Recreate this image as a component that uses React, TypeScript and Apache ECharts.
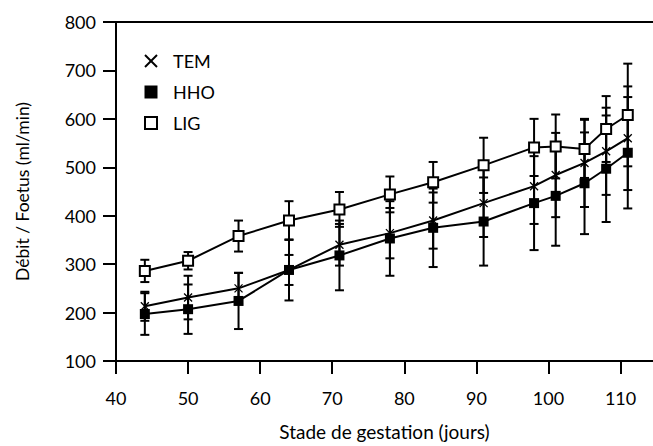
import React, { useEffect, useRef } from "react";
import * as echarts from "echarts";

const days = [44, 50, 57, 64, 71, 78, 84, 91, 98, 101, 105, 108, 111];
const temMean = [213, 231, 250, 288, 340, 364, 390, 426, 461, 484, 509, 533, 560];
const temSd = [30, 45, 32, 31, 43, 52, 58, 70, 78, 87, 91, 90, 107];
const hhoMean = [197, 207, 224, 288, 318, 353, 375, 388, 426, 441, 467, 497, 530];
const hhoSd = [43, 51, 58, 63, 72, 77, 81, 91, 97, 103, 105, 110, 115];
const ligMean = [286, 307, 358, 390, 413, 444, 469, 504, 541, 543, 538, 579, 608];
const ligSd = [23, 18, 32, 40, 36, 37, 42, 57, 59, 66, 60, 68, 106];

const xTicks = [40, 50, 60, 70, 80, 90, 100, 110];
const legendNames = ["TEM", "HHO", "LIG"];
const xTitle = "Stade de gestation (jours)";
const yTitle = "Débit / Foetus (ml/min)";

const FONT = "Lato";

function errData(mean: number[], sd: number[]) {
  return days.map((d, i) => [d, mean[i] - sd[i], mean[i] + sd[i]]);
}

function errSeries(mean: number[], sd: number[]) {
  return {
    type: "custom",
    z: 2,
    data: errData(mean, sd),
    renderItem: (params: any, api: any) => {
      const x = api.value(0);
      const lo = api.value(1);
      const hi = api.value(2);
      const p1 = api.coord([x, hi]);
      const p2 = api.coord([x, lo]);
      const w = 4.5;
      const st = { stroke: "#000", lineWidth: 2 };
      return {
        type: "group",
        children: [
          { type: "line", shape: { x1: p1[0], y1: p1[1], x2: p2[0], y2: p2[1] }, style: st },
          { type: "line", shape: { x1: p1[0] - w, y1: p1[1], x2: p1[0] + w, y2: p1[1] }, style: st },
          { type: "line", shape: { x1: p2[0] - w, y1: p2[1], x2: p2[0] + w, y2: p2[1] }, style: st },
        ],
      };
    },
  };
}

function lineSeries(name: string, mean: number[], symbol: string, size: number, itemStyle: any, z: number) {
  return {
    type: "line",
    name,
    z,
    data: days.map((d, i) => [d, mean[i]]),
    symbol,
    symbolSize: size,
    showAllSymbol: true,
    lineStyle: { color: "#000", width: 2 },
    itemStyle,
  };
}

export default function App() {
  const ref = useRef<HTMLDivElement>(null);
  useEffect(() => {
    if (!ref.current) return;
    const chart = echarts.init(ref.current, null, { renderer: "svg" });
    const legendY = [61, 92, 123];
    const lx = 151;
    chart.setOption({
      animation: false,
      backgroundColor: "#fff",
      textStyle: { fontFamily: FONT, color: "#000" },
      grid: { left: 116, right: 0, top: 22, bottom: 82 },
      xAxis: [
        {
          type: "value",
          min: 40,
          max: 114.5,
          interval: 10,
          name: xTitle,
          nameLocation: "middle",
          nameGap: 61,
          nameTextStyle: { fontFamily: FONT, fontSize: 19, color: "#000" },
          axisLine: { show: true, lineStyle: { color: "#000", width: 2 } },
          axisTick: { show: true, length: 13, customValues: xTicks, lineStyle: { color: "#000", width: 2 } },
          axisLabel: { customValues: xTicks, margin: 28, fontFamily: FONT, fontSize: 18, color: "#000" },
          splitLine: { show: false },
        },
        {
          type: "value",
          position: "top",
          min: 40,
          max: 114.5,
          axisLine: { show: true, lineStyle: { color: "#000", width: 2 } },
          axisTick: { show: false },
          axisLabel: { show: false },
          splitLine: { show: false },
        },
      ],
      yAxis: {
        type: "value",
        min: 100,
        max: 800,
        interval: 100,
        name: yTitle,
        nameLocation: "middle",
        nameGap: 85,
        nameTextStyle: { fontFamily: FONT, fontSize: 17.5, color: "#000" },
        axisLine: { show: true, lineStyle: { color: "#000", width: 2 } },
        axisTick: { show: true, length: 13, lineStyle: { color: "#000", width: 2 } },
        axisLabel: { margin: 20, fontFamily: FONT, fontSize: 18, color: "#000" },
        splitLine: { show: false },
      },
      graphic: [
        { type: "line", shape: { x1: lx - 6, y1: legendY[0] - 6, x2: lx + 6, y2: legendY[0] + 6 }, style: { stroke: "#000", lineWidth: 2 } },
        { type: "line", shape: { x1: lx + 6, y1: legendY[0] - 6, x2: lx - 6, y2: legendY[0] + 6 }, style: { stroke: "#000", lineWidth: 2 } },
        { type: "rect", shape: { x: lx - 6.5, y: legendY[1] - 6.5, width: 13, height: 13 }, style: { fill: "#000" } },
        { type: "rect", shape: { x: lx - 6, y: legendY[2] - 6, width: 12, height: 12 }, style: { fill: "#fff", stroke: "#000", lineWidth: 2 } },
        ...legendNames.map((n, i) => ({
          type: "text",
          x: 173,
          y: legendY[i],
          style: { text: n, fontFamily: FONT, fontSize: 18, fill: "#000", verticalAlign: "middle", textAlign: "left" },
        })),
      ],
      series: [
        errSeries(temMean, temSd),
        errSeries(hhoMean, hhoSd),
        errSeries(ligMean, ligSd),
        lineSeries("TEM", temMean, "path://M0,0L10,10M10,0L0,10", 8, { color: "rgba(0,0,0,0)", borderColor: "#000", borderWidth: 1.3 }, 4),
        lineSeries("HHO", hhoMean, "rect", 10, { color: "#000", borderColor: "#000", borderWidth: 0 }, 4),
        lineSeries("LIG", ligMean, "rect", 10, { color: "#fff", borderColor: "#000", borderWidth: 2 }, 5),
      ],
    });
    return () => chart.dispose();
  }, []);
  return <div ref={ref} style={{ position: "fixed", left: 0, top: 0, width: 653, height: 446 }} />;
}
